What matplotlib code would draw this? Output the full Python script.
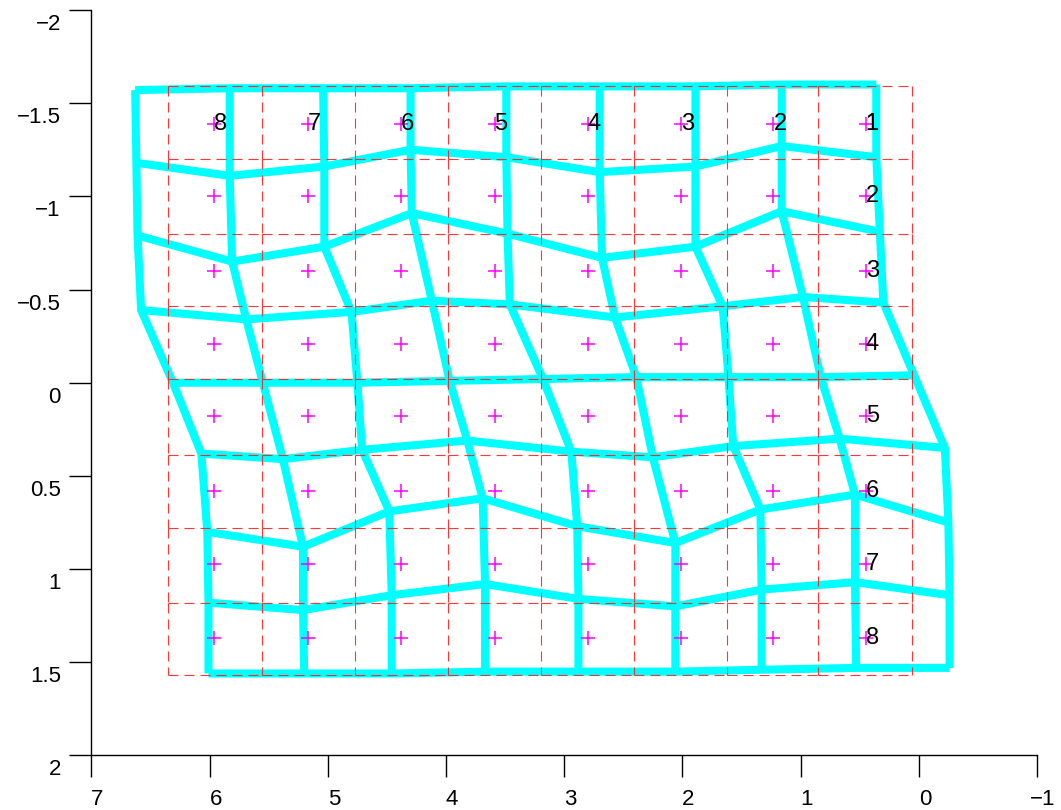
import matplotlib
matplotlib.use('Agg')
import matplotlib.pyplot as plt
from matplotlib.collections import LineCollection
from matplotlib.transforms import ScaledTranslation

plt.rcParams['font.family'] = ['Liberation Sans', 'DejaVu Sans']

# undeformed mesh: cell edges
grid_x = [6.35, 5.56, 4.77, 3.98, 3.20, 2.41, 1.62, 0.85, 0.06]
grid_y = [-1.59, -1.20, -0.80, -0.41, -0.02, 0.39, 0.78, 1.18, 1.57]

# element centres and their numbering
cen_x = [5.96, 5.17, 4.38, 3.59, 2.80, 2.01, 1.23, 0.45]
cen_y = [-1.39, -1.00, -0.60, -0.21, 0.18, 0.58, 0.97, 1.37]
col_ids = [8, 7, 6, 5, 4, 3, 2, 1]
row_ids = [1, 2, 3, 4, 5, 6, 7, 8]

# deformed mesh nodes, one list per node row (top to bottom)
node_x = [
	[6.63, 5.83, 5.04, 4.30, 3.49, 2.70, 1.89, 1.16, 0.36],
	[6.62, 5.83, 5.03, 4.30, 3.49, 2.70, 1.89, 1.16, 0.36],
	[6.61, 5.81, 5.03, 4.29, 3.48, 2.68, 1.89, 1.16, 0.33],
	[6.58, 5.69, 4.80, 4.12, 3.46, 2.57, 1.66, 0.98, 0.30],
	[6.31, 5.55, 4.75, 3.97, 3.18, 2.39, 1.61, 0.83, 0.04],
	[6.07, 5.38, 4.71, 3.82, 2.94, 2.25, 1.57, 0.67, -0.22],
	[6.02, 5.21, 4.48, 3.69, 2.89, 2.06, 1.34, 0.54, -0.25],
	[6.01, 5.21, 4.46, 3.67, 2.88, 2.06, 1.33, 0.54, -0.26],
	[6.01, 5.20, 4.46, 3.67, 2.88, 2.06, 1.33, 0.53, -0.26],
]
node_y = [
	[-1.57, -1.58, -1.58, -1.58, -1.59, -1.59, -1.59, -1.60, -1.60],
	[-1.18, -1.11, -1.16, -1.25, -1.21, -1.13, -1.16, -1.27, -1.21],
	[-0.79, -0.65, -0.73, -0.91, -0.80, -0.67, -0.73, -0.92, -0.81],
	[-0.39, -0.34, -0.38, -0.44, -0.42, -0.35, -0.41, -0.46, -0.43],
	[0.00, 0.00, 0.00, -0.01, -0.02, -0.03, -0.03, -0.03, -0.04],
	[0.38, 0.41, 0.36, 0.31, 0.37, 0.40, 0.34, 0.30, 0.35],
	[0.80, 0.88, 0.69, 0.62, 0.77, 0.86, 0.68, 0.60, 0.75],
	[1.18, 1.22, 1.14, 1.08, 1.16, 1.20, 1.11, 1.07, 1.14],
	[1.56, 1.56, 1.56, 1.55, 1.55, 1.55, 1.54, 1.53, 1.53],
]

x_ticks = [7, 6, 5, 4, 3, 2, 1, 0, -1]
y_ticks = [-2, -1.5, -1, -0.5, 0, 0.5, 1, 1.5, 2]


def tick_text(v):
	return '%g' % v if v >= 0 else '\u2212%g' % -v


fig = plt.figure(figsize=(10.61, 8.10), dpi=100)
ax = fig.add_axes([0.0862, 0.0673, 0.8912, 0.9204])

# deformed mesh
mesh_kw = dict(color='#00FFFF', lw=5.8, solid_capstyle='butt', solid_joinstyle='miter', zorder=1)
for r in range(len(node_x)):
	ax.plot(node_x[r], node_y[r], **mesh_kw)
for c in range(len(node_x[0])):
	ax.plot([row[c] for row in node_x], [row[c] for row in node_y], **mesh_kw)

# original cells: every edge is its own segment so the dashes restart at each node
segs = []
for yv in grid_y:
	for j in range(len(grid_x) - 1):
		segs.append([(grid_x[j], yv), (grid_x[j + 1], yv)])
for xv in grid_x:
	for i in range(len(grid_y) - 1):
		segs.append([(xv, grid_y[i]), (xv, grid_y[i + 1])])
ax.add_collection(LineCollection(segs, colors='#FF2020', linewidths=0.8,
								 linestyles=[(0, (9, 5.4))], alpha=0.9, zorder=2))

for cy in cen_y:
	ax.plot(cen_x, [cy] * len(cen_x), '+', color='#FF00FF', ms=10, mew=1.1, ls='none', zorder=3)

for cx, n in zip(cen_x, col_ids):
	ax.text(cx, cen_y[0], str(n), ha='left', va='center', fontsize=17, zorder=4)
for cy, n in zip(cen_y, row_ids):
	ax.text(cen_x[-1], cy, str(n), ha='left', va='center', fontsize=17, zorder=4)

ax.set_xlim(7, -1)
ax.set_ylim(2, -2)
ax.set_xticks(x_ticks)
ax.set_xticklabels([tick_text(v) for v in x_ticks])
ax.set_yticks(y_ticks)
ax.set_yticklabels([tick_text(v) for v in y_ticks])
ax.tick_params(direction='out', length=16, width=1, labelsize=16, pad=6)
for s in ['top', 'right']:
	ax.spines[s].set_visible(False)
for s in ['left', 'bottom']:
	ax.spines[s].set_linewidth(1)

for lab in ax.get_yticklabels():
	lab.set_transform(lab.get_transform() + ScaledTranslation(0, -0.12, fig.dpi_scale_trans))
for lab in ax.get_xticklabels():
	lab.set_transform(lab.get_transform() + ScaledTranslation(0.06, -0.03, fig.dpi_scale_trans))

fig.savefig('out.png', dpi=100)
